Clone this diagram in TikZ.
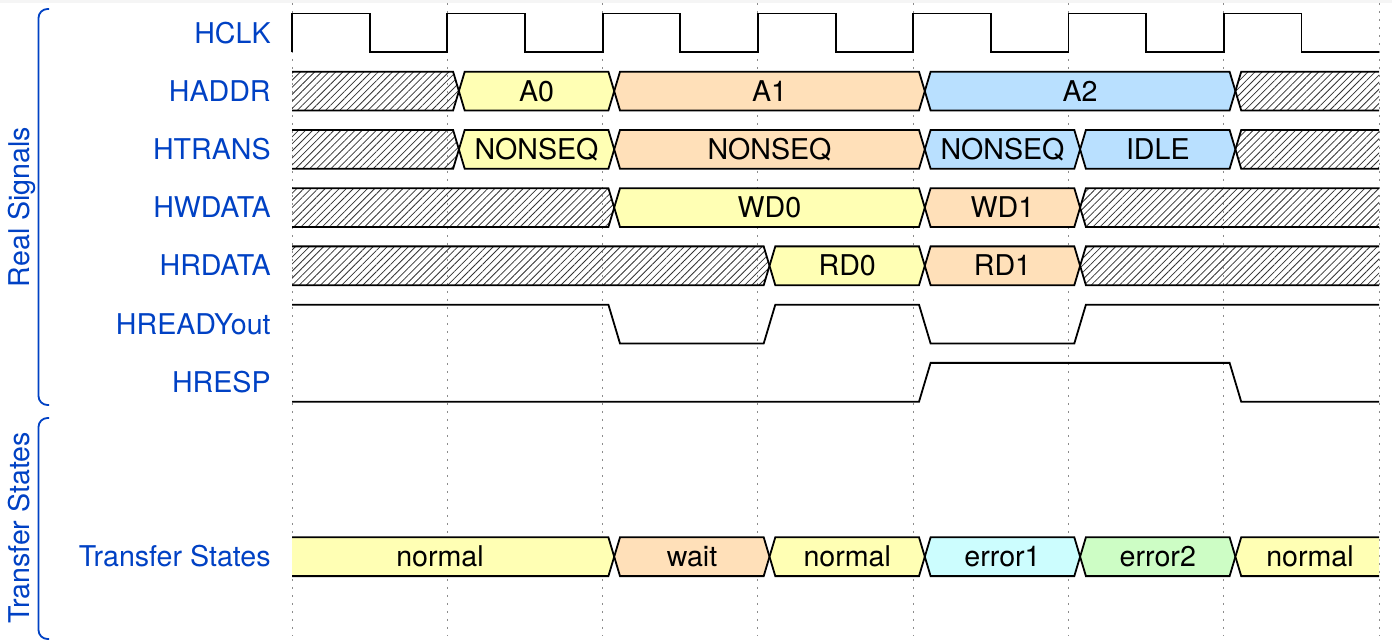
\documentclass[tikz,border=0pt]{standalone}
\usepackage{fontspec}
\setmainfont{TeX Gyre Heros}
\usepackage{xcolor}
\usepackage{tikz}
\usetikzlibrary{patterns.meta}

\definecolor{lblblue}{HTML}{0041C4}
\definecolor{wyellow}{HTML}{FFFFB4}
\definecolor{worange}{HTML}{FFE0B9}
\definecolor{wblue}{HTML}{B9E0FF}
\definecolor{wcyan}{HTML}{CCFDFE}
\definecolor{wgreen}{HTML}{CDFDC5}

% data segment: start, end, lane top, fill
\newcommand{\dseg}[4]{%
  \path[#4] (#1,#3+19.4) -- (#1+5.8,#3) -- (#2-5.8,#3) -- (#2,#3+19.4) -- (#2-5.8,#3+38.8) -- (#1+5.8,#3+38.8) -- cycle;
  \draw[wave] (#1,#3+19.4) -- (#1+5.8,#3) -- (#2-5.8,#3) -- (#2,#3+19.4) -- (#2-5.8,#3+38.8) -- (#1+5.8,#3+38.8) -- cycle;}
% first segment of a lane: end, lane top, fill
\newcommand{\dfirst}[3]{%
  \path[#3] (292,#2) -- (#1-5.8,#2) -- (#1,#2+19.4) -- (#1-5.8,#2+38.8) -- (292,#2+38.8) -- cycle;
  \draw[wave] (292,#2) -- (#1-5.8,#2) -- (#1,#2+19.4) -- (#1-5.8,#2+38.8) -- (292,#2+38.8);}
% last segment of a lane: start, lane top, fill
\newcommand{\dlast}[3]{%
  \path[#3] (1379.1,#2) -- (#1+5.8,#2) -- (#1,#2+19.4) -- (#1+5.8,#2+38.8) -- (1379.1,#2+38.8) -- cycle;
  \draw[wave] (1379.1,#2) -- (#1+5.8,#2) -- (#1,#2+19.4) -- (#1+5.8,#2+38.8) -- (1379.1,#2+38.8);}

\begin{document}
\begin{tikzpicture}[
  x=0.5pt, y=-0.5pt,
  wave/.style={draw=black, line width=0.9pt, line join=miter},
  hatch/.style={pattern={Lines[angle=45, distance=2.5pt, line width=0.4pt]}, pattern color=black!80},
  gridline/.style={draw=black!45, line width=0.45pt, dash pattern=on 0.8pt off 3.2pt},
  bracket/.style={draw=lblblue, line width=0.9pt, rounded corners=4.5pt},
  lbl/.style={anchor=east, text=lblblue, font=\fontsize{14.3}{16}\selectfont, inner sep=0pt, text height=10.2pt, text depth=0pt},
  grp/.style={text=lblblue, font=\fontsize{14.3}{16}\selectfont, inner sep=0pt, text height=10.2pt, text depth=0pt, rotate=90},
  val/.style={font=\fontsize{14.3}{16}\selectfont, inner sep=0pt, text height=10.2pt, text depth=0pt}
]
  \useasboundingbox (0,0) rectangle (1392,641);
  \fill[black!4] (0,0) rectangle (1392,3);

  % grid
  \foreach \k in {0,...,7}
    \draw[gridline] ({292+155.3*\k},3) -- ({292+155.3*\k},636);

  % groups
  \draw[bracket] (49,9) -- (38.5,9) -- (38.5,405) -- (49,405);
  \draw[bracket] (49,418) -- (38.5,418) -- (38.5,639) -- (49,639);
  \node[grp] (realsig) at (19,207) {Real Signals};
  \node[grp] (xfergrp) at (19,528) {Transfer States};

  % lane names
  \node[lbl] (hclk) at (271,32.9) {HCLK};
  \node[lbl] (haddr) at (271,91.1) {HADDR};
  \node[lbl] (htrans) at (271,149.4) {HTRANS};
  \node[lbl] (hwdata) at (271,207.6) {HWDATA};
  \node[lbl] (hrdata) at (271,265.8) {HRDATA};
  \node[lbl] (hready) at (271,324.1) {HREADYout};
  \node[lbl] (hresp) at (271,382.3) {HRESP};
  \node[lbl] (xfer) at (271,556.7) {Transfer States};

  % HCLK
  \draw[wave] (292,52.3) |- (369.7,13.5) |- (447.3,52.3) |- (525,13.5) |- (602.6,52.3)
    |- (680.3,13.5) |- (757.9,52.3) |- (835.6,13.5) |- (913.2,52.3) |- (990.9,13.5)
    |- (1068.5,52.3) |- (1146.2,13.5) |- (1223.8,52.3) |- (1301.5,13.5) |- (1379.1,52.3);

  % HADDR
  \dfirst{458.9}{71.7}{hatch}
  \dseg{458.9}{614.2}{71.7}{fill=wyellow}
  \dseg{614.2}{924.8}{71.7}{fill=worange}
  \dseg{924.8}{1235.4}{71.7}{fill=wblue}
  \dlast{1235.4}{71.7}{hatch}
  \node[val] (a0) at (536.5,91.1) {A0};
  \node[val] (a1) at (769.5,91.1) {A1};
  \node[val] (a2) at (1080.1,91.1) {A2};

  % HTRANS
  \dfirst{458.9}{130}{hatch}
  \dseg{458.9}{614.2}{130}{fill=wyellow}
  \dseg{614.2}{924.8}{130}{fill=worange}
  \dseg{924.8}{1080.1}{130}{fill=wblue}
  \dseg{1080.1}{1235.4}{130}{fill=wblue}
  \dlast{1235.4}{130}{hatch}
  \node[val] (t0) at (536.5,149.4) {NONSEQ};
  \node[val] (t1) at (769.5,149.4) {NONSEQ};
  \node[val] (t2) at (1002.5,149.4) {NONSEQ};
  \node[val] (t3) at (1157.8,149.4) {IDLE};

  % HWDATA
  \dfirst{614.2}{188.2}{hatch}
  \dseg{614.2}{924.8}{188.2}{fill=wyellow}
  \dseg{924.8}{1080.1}{188.2}{fill=worange}
  \dlast{1080.1}{188.2}{hatch}
  \node[val] (wd0) at (769.5,207.6) {WD0};
  \node[val] (wd1) at (1002.5,207.6) {WD1};

  % HRDATA
  \dfirst{769.5}{246.4}{hatch}
  \dseg{769.5}{924.8}{246.4}{fill=wyellow}
  \dseg{924.8}{1080.1}{246.4}{fill=worange}
  \dlast{1080.1}{246.4}{hatch}
  \node[val] (rd0) at (847.2,265.8) {RD0};
  \node[val] (rd1) at (1002.5,265.8) {RD1};

  % HREADYout, HRESP
  \draw[wave] (292,304.7) -- (608.4,304.7) -- (620,343.5) -- (763.7,343.5) -- (775.3,304.7)
    -- (919,304.7) -- (930.6,343.5) -- (1074.3,343.5) -- (1085.9,304.7) -- (1379.1,304.7);
  \draw[wave] (292,401.7) -- (919,401.7) -- (930.6,362.9) -- (1229.6,362.9) -- (1241.2,401.7) -- (1379.1,401.7);

  % Transfer States
  \dfirst{614.2}{537.3}{fill=wyellow}
  \dseg{614.2}{769.5}{537.3}{fill=worange}
  \dseg{769.5}{924.8}{537.3}{fill=wyellow}
  \dseg{924.8}{1080.1}{537.3}{fill=wcyan}
  \dseg{1080.1}{1235.4}{537.3}{fill=wgreen}
  \dlast{1235.4}{537.3}{fill=wyellow}
  \node[val] (s0) at (440,556.7) {normal};
  \node[val] (s1) at (692,556.7) {wait};
  \node[val] (s2) at (847.2,556.7) {normal};
  \node[val] (s3) at (1002.5,556.7) {error1};
  \node[val] (s4) at (1157.8,556.7) {error2};
  \node[val] (s5) at (1310,556.7) {normal};

\end{tikzpicture}
\end{document}
